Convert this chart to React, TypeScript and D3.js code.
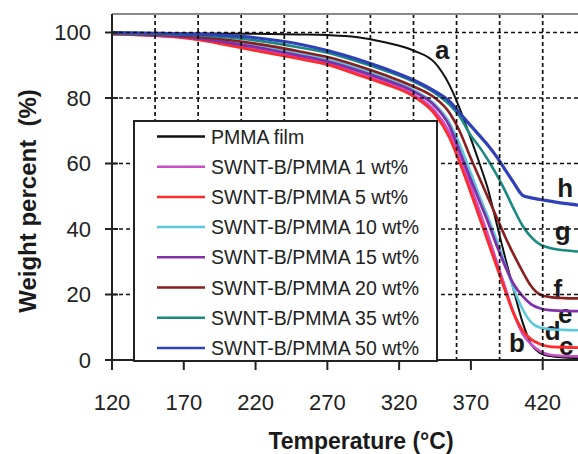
import React from "react";
import * as d3 from "d3";

const temps = [120, 170, 220, 250, 270, 290, 310, 330, 345, 355, 362, 370, 376, 382, 388, 394, 400, 406, 412, 418, 425, 435, 445];

const pmmaFilm = [99.8, 99.7, 99.6, 99.4, 99.2, 98.6, 97, 94.5, 90.7, 84, 77, 67.5, 60, 52, 41.5, 31, 21, 11.5, 4.8, 2.2, 1.2, 0.8, 0.6];
const wt1 = [99.5, 98.5, 95, 92.5, 90.7, 88, 85, 81, 76, 69.5, 62.5, 53, 45.5, 38, 30, 22, 14, 8, 4.8, 2.7, 1.6, 1.2, 1.1];
const wt5 = [99.5, 98.4, 94.5, 92, 90.2, 87.3, 84.3, 80.5, 75, 68, 60.5, 51, 43.5, 36, 28.5, 21, 14, 9, 6.3, 4.9, 4.1, 3.9, 3.8];
const wt10 = [99.6, 98.8, 96, 93.6, 91.8, 89.3, 86.2, 82.5, 78, 72.5, 66, 57, 50, 43.5, 36.5, 29, 21.5, 15.5, 11.5, 9.9, 9.4, 9.2, 9.1];
const wt15 = [99.6, 98.7, 95.5, 93, 91.2, 88.6, 85.6, 82, 77.5, 71.5, 64, 55, 48.5, 42, 35, 28.5, 23, 19.5, 17, 15.8, 15.2, 15, 14.9];
const wt20 = [99.7, 99, 96.6, 94.3, 92.5, 90, 87, 83.5, 80, 75.5, 70, 61.5, 55.5, 49.5, 43.5, 37.5, 32, 27, 22.5, 20, 19.2, 18.9, 18.8];
const wt35 = [99.8, 99.3, 97.6, 95.5, 93.8, 91.3, 88.4, 85, 81.5, 78, 74.5, 68.5, 65, 61, 56.5, 51.5, 46, 41, 37.5, 35.3, 34.2, 33.5, 33.1];
const wt50 = [100, 99.6, 98.4, 96.5, 94.5, 92, 89, 85.5, 82, 79, 75.5, 71.5, 68.5, 65.5, 62, 58, 54, 50.3, 49.5, 49, 48.5, 47.8, 47.3];

const seriesNames = [
  "PMMA film",
  "SWNT-B/PMMA 1 wt%",
  "SWNT-B/PMMA 5 wt%",
  "SWNT-B/PMMA 10 wt%",
  "SWNT-B/PMMA 15 wt%",
  "SWNT-B/PMMA 20 wt%",
  "SWNT-B/PMMA 35 wt%",
  "SWNT-B/PMMA 50 wt%",
];
const seriesValues = [pmmaFilm, wt1, wt5, wt10, wt15, wt20, wt35, wt50];
const seriesColors = ["#111111", "#c84fc8", "#ff2a2a", "#5cc8dc", "#8030a8", "#8b1e1e", "#1a8a80", "#3040b8"];
const seriesWidths = [2, 2.6, 2.8, 2.6, 2.8, 2.6, 2.6, 3.2];

const curveLabels = ["a", "b", "c", "d", "e", "f", "g", "h"];
const labelTemps = [350, 402, 436.4, 427, 435.7, 430.6, 434, 435.6];
const labelWeights = [92, 2.4, 1.5, 6.1, 11.3, 18.9, 36.6, 49.9];

const xTicks = [120, 170, 220, 270, 320, 370, 420];
const yTicks = [0, 20, 40, 60, 80, 100];
const xGrid = [150, 180, 210, 240, 270, 300, 330, 360, 390, 420, 450];
const yGrid = [20, 40, 60, 80, 100];

const FONT = "'Liberation Sans', Arial, Helvetica, sans-serif";

export default function App() {
  const W = 578;
  const H = 454;
  const left = 112;
  const top = 14;
  const bottom = 360;
  const x = d3.scaleLinear().domain([120, 420]).range([left, 542.7]);
  const y = d3.scaleLinear().domain([0, 100]).range([bottom, 32.5]);
  const line = d3
    .line<number>()
    .x((_, i) => x(temps[i]))
    .y((d) => y(d))
    .curve(d3.curveMonotoneX);

  const legX = 134, legY = 121, legW = 303, legH = 240;
  const rowY0 = 136.5, rowStep = 30.2;

  return (
    <svg
      width={W}
      height={H}
      style={{ position: "absolute", left: 0, top: 0, background: "#fff" }}
      fontFamily={FONT}
    >
      <defs>
        <clipPath id="plot">
          <rect x={left} y={top} width={W - left} height={bottom - top} />
        </clipPath>
      </defs>
      {/* curve letters */}
      <g fontWeight="bold" fontSize={26} fill="#1a1a1a" textAnchor="middle">
        {curveLabels.map((l, i) => (
          <text key={l} x={x(labelTemps[i])} y={y(labelWeights[i])}>
            {l}
          </text>
        ))}
      </g>
      {/* curves */}
      <g clipPath="url(#plot)">
        {seriesValues.map((vals, i) => (
          <path
            key={i}
            d={line(vals) || ""}
            fill="none"
            stroke={seriesColors[i]}
            strokeWidth={seriesWidths[i]}
            strokeLinejoin="round"
          />
        ))}
      </g>
      {/* gridlines */}
      <g stroke="#111" strokeWidth={1.7} strokeDasharray="4,3" clipPath="url(#plot)">
        {yGrid.map((v) => (
          <line key={"h" + v} x1={left} x2={W} y1={y(v)} y2={y(v)} />
        ))}
        {xGrid.map((v) => (
          <line key={"v" + v} x1={x(v)} x2={x(v)} y1={top} y2={bottom} />
        ))}
      </g>
      {/* frame */}
      <line x1={left} x2={W} y1={top} y2={top} stroke="#8a8a8a" strokeWidth={2} />
      <line x1={left} x2={left} y1={top} y2={bottom} stroke="#222" strokeWidth={2} />
      <line x1={left} x2={W} y1={bottom} y2={bottom} stroke="#222" strokeWidth={2} />
      {/* y ticks */}
      <g>
        {yTicks.map((v) => (
          <g key={v}>
            <line x1={left - 7} x2={left + 6} y1={y(v)} y2={y(v)} stroke="#222" strokeWidth={2} />
            <text x={91} y={y(v)} dy="0.36em" textAnchor="end" fontSize={22} fill="#222">
              {v}
            </text>
          </g>
        ))}
      </g>
      {/* x ticks */}
      <g>
        {xTicks.map((v) => (
          <g key={v}>
            <line x1={x(v)} x2={x(v)} y1={bottom} y2={bottom + 10} stroke="#222" strokeWidth={2} />
            <text x={x(v)} y={410} textAnchor="middle" fontSize={22} fill="#222">
              {v}
            </text>
          </g>
        ))}
      </g>
      {/* axis titles */}
      <text x={361} y={449} textAnchor="middle" fontSize={23} fontWeight="bold" fill="#1a1a1a">
        Temperature (°C)
      </text>
      <text
        transform="translate(36,201) rotate(-90)"
        textAnchor="middle"
        fontSize={24}
        fontWeight="bold"
        fill="#1a1a1a"
        style={{ whiteSpace: "pre" }}
      >
        {"Weight percent  (%)"}
      </text>
      {/* legend */}
      <rect x={legX} y={legY} width={legW} height={legH} fill="#fff" stroke="#222" strokeWidth={2} />
      {seriesNames.map((n, i) => {
        const ry = rowY0 + i * rowStep;
        return (
          <g key={n}>
            <line x1={157} x2={205} y1={ry} y2={ry} stroke={seriesColors[i]} strokeWidth={2.5} />
            <text x={211} y={ry} dy="0.36em" fontSize={19.5} fill="#222">
              {n}
            </text>
          </g>
        );
      })}
    </svg>
  );
}
